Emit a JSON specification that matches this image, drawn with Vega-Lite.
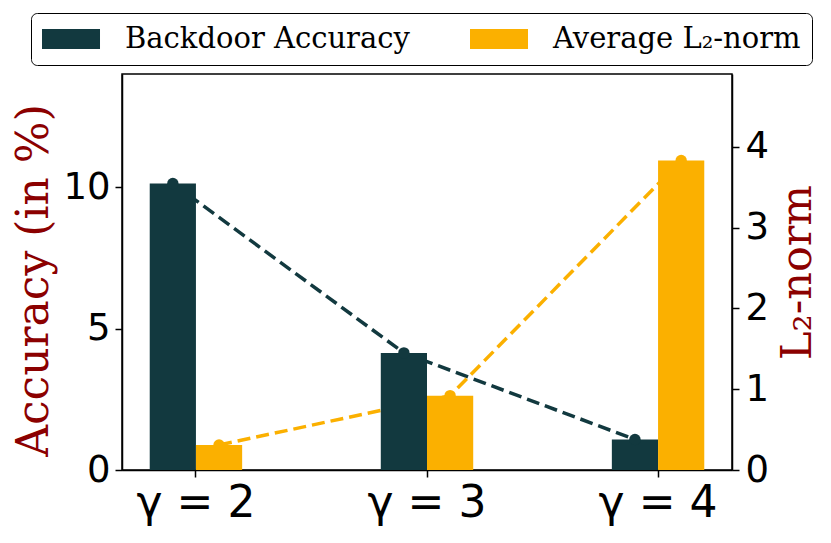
{
  "$schema": "https://vega.github.io/schema/vega-lite/v6.json",
  "width": 610,
  "height": 396,
  "autosize": "none",
  "padding": {"left": 122, "top": 74, "right": 99, "bottom": 73},
  "background": "white",
  "config": {
    "view": {"stroke": "black", "strokeWidth": 1.5},
    "axis": {
      "grid": false,
      "domainColor": "black",
      "domainWidth": 1.5,
      "tickColor": "black",
      "tickWidth": 1.5,
      "tickSize": 7,
      "labelColor": "black",
      "labelFont": "DejaVu Sans"
    }
  },
  "data": {
    "values": [
      {"gamma": "γ = 2", "metric": "Backdoor Accuracy", "value": 10.13},
      {"gamma": "γ = 3", "metric": "Backdoor Accuracy", "value": 4.14},
      {"gamma": "γ = 4", "metric": "Backdoor Accuracy", "value": 1.08},
      {"gamma": "γ = 2", "metric": "Average L₂-norm", "value": 0.31},
      {"gamma": "γ = 3", "metric": "Average L₂-norm", "value": 0.92},
      {"gamma": "γ = 4", "metric": "Average L₂-norm", "value": 3.83}
    ]
  },
  "encoding": {
    "x": {
      "field": "gamma",
      "type": "nominal",
      "scale": {"paddingInner": 0.6, "paddingOuter": 0.12},
      "axis": {"title": null, "labelAngle": 0, "labelFontSize": 44, "labelPadding": 4}
    },
    "xOffset": {
      "field": "metric",
      "type": "nominal",
      "scale": {"domain": ["Backdoor Accuracy", "Average L₂-norm"], "paddingInner": 0, "paddingOuter": 0}
    },
    "color": {
      "field": "metric",
      "type": "nominal",
      "scale": {"domain": ["Backdoor Accuracy", "Average L₂-norm"], "range": ["#12393F", "#FBB000"]},
      "legend": {
        "orient": "none",
        "legendX": -91,
        "legendY": -61,
        "direction": "horizontal",
        "title": null,
        "symbolType": "M-1,-0.667L2.867,-0.667L2.867,0.667L-1,0.667Z",
        "symbolSize": 900,
        "symbolStrokeWidth": 0,
        "symbolOpacity": 1,
        "symbolDash": [],
        "labelFont": "DejaVu Serif",
        "labelFontSize": 29,
        "labelColor": "black",
        "labelLimit": 500,
        "labelOffset": 53,
        "columnPadding": 60,
        "padding": 11,
        "strokeColor": "black",
        "fillColor": "white",
        "cornerRadius": 6
      }
    }
  },
  "layer": [
    {
      "transform": [{"filter": "datum.metric === 'Backdoor Accuracy'"}],
      "mark": {"type": "line", "strokeDash": [13, 6], "strokeWidth": 3.5},
      "encoding": {
        "y": {"field": "value", "type": "quantitative", "scale": {"domain": [0, 14], "nice": false, "zero": true}, "axis": null}
      }
    },
    {
      "transform": [{"filter": "datum.metric !== 'Backdoor Accuracy'"}],
      "mark": {"type": "line", "strokeDash": [13, 6], "strokeWidth": 3.5},
      "encoding": {
        "y": {"field": "value", "type": "quantitative", "scale": {"domain": [0, 4.9], "nice": false, "zero": true}, "axis": null}
      }
    },
    {
      "transform": [{"filter": "datum.metric === 'Backdoor Accuracy'"}],
      "mark": {"type": "bar"},
      "encoding": {
        "y": {
          "field": "value",
          "type": "quantitative",
          "scale": {"domain": [0, 14], "nice": false, "zero": true},
          "axis": {
            "orient": "left",
            "values": [0, 5, 10],
            "labelFontSize": 37,
            "labelPadding": 5,
            "title": "Accuracy (in %)",
            "titleFont": "DejaVu Serif",
            "titleFontSize": 44,
            "titleFontWeight": "normal",
            "titleColor": "#8B0000",
            "titlePadding": 6,
            "titleY": 206
          }
        }
      }
    },
    {
      "transform": [{"filter": "datum.metric !== 'Backdoor Accuracy'"}],
      "mark": {"type": "bar"},
      "encoding": {
        "y": {
          "field": "value",
          "type": "quantitative",
          "scale": {"domain": [0, 4.9], "nice": false, "zero": true},
          "axis": {
            "orient": "right",
            "values": [0, 1, 2, 3, 4],
            "labelFontSize": 37,
            "labelPadding": 6,
            "title": "L₂-norm",
            "titleFont": "DejaVu Serif",
            "titleFontSize": 43,
            "titleFontWeight": "normal",
            "titleColor": "#8B0000",
            "titleAngle": 270,
            "titleBaseline": "top",
            "titlePadding": 8
          }
        }
      }
    },
    {
      "transform": [{"filter": "datum.metric === 'Backdoor Accuracy'"}],
      "mark": {"type": "point", "filled": true, "size": 130, "opacity": 1},
      "encoding": {
        "y": {"field": "value", "type": "quantitative", "scale": {"domain": [0, 14], "nice": false, "zero": true}, "axis": null}
      }
    },
    {
      "transform": [{"filter": "datum.metric !== 'Backdoor Accuracy'"}],
      "mark": {"type": "point", "filled": true, "size": 130, "opacity": 1},
      "encoding": {
        "y": {"field": "value", "type": "quantitative", "scale": {"domain": [0, 4.9], "nice": false, "zero": true}, "axis": null}
      }
    }
  ],
  "resolve": {"scale": {"y": "independent"}}
}
